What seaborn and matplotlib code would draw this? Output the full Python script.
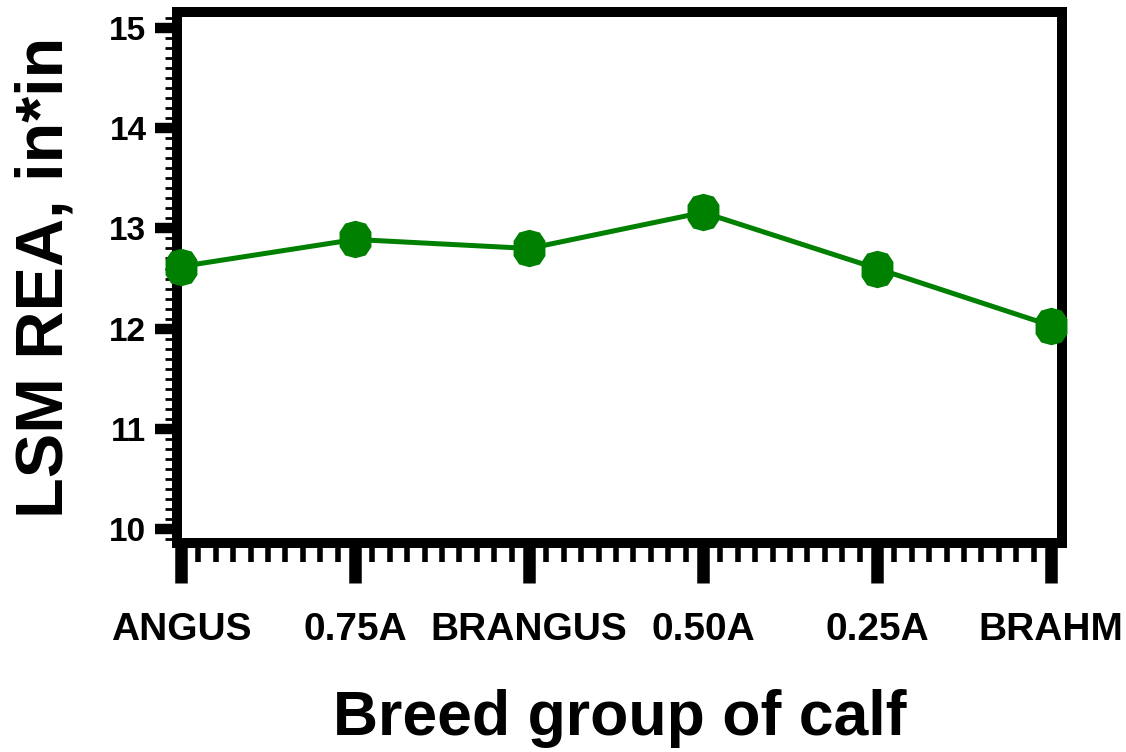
# LSM REA by breed group of calf
import numpy as np
import pandas as pd
import matplotlib
matplotlib.use("Agg")
import matplotlib.pyplot as plt
from matplotlib.ticker import MultipleLocator
import seaborn as sns

# ------------------------------------------
# Data
# ------------------------------------------
breed_groups = ["ANGUS", "0.75A", "BRANGUS", "0.50A", "0.25A", "BRAHM"]
lsm_rea = [12.62, 12.89, 12.80, 13.16, 12.60, 12.03]
y_ticks = [10, 11, 12, 13, 14, 15]

df = pd.DataFrame({"breed": breed_groups, "rea": lsm_rea})

# rounded, slightly tall dot shape like the original markers
tall_dot = [(0, 1), (0.55, 0.85), (0.85, 0.4), (0.85, -0.4), (0.55, -0.85),
            (0, -1), (-0.55, -0.85), (-0.85, -0.4), (-0.85, 0.4),
            (-0.55, 0.85), (0, 1)]

# ------------------------------------------
# Style
# ------------------------------------------
sns.set_theme(style="ticks")
plt.rcParams["font.family"] = ["Liberation Sans", "DejaVu Sans"]
plt.rcParams["font.weight"] = "bold"

fig = plt.figure(figsize=(11.26, 7.52), dpi=100)
ax = fig.add_axes([0.1572, 0.2779, 0.9432 - 0.1572, 0.984 - 0.2779])

sns.lineplot(
    data=df,
    x="breed",
    y="rea",
    sort=False,
    color="#008000",
    linewidth=3.6,
    marker=tall_dot,
    markersize=27,
    markeredgewidth=0,
    clip_on=False,
    zorder=10,
    ax=ax
)

ax.set_xlim(-0.023, 5.063)
ax.set_ylim(9.86, 15.16)

ax.set_xticks(range(len(breed_groups)))
ax.set_xticklabels(breed_groups)
ax.xaxis.set_minor_locator(MultipleLocator(0.1))
ax.set_yticks(y_ticks)
ax.set_yticklabels([str(t) for t in y_ticks])
ax.yaxis.set_minor_locator(MultipleLocator(0.1))

ax.tick_params(axis="x", which="major", length=29, width=9, pad=21,
               labelsize=28, color="black", direction="out")
ax.tick_params(axis="x", which="minor", length=14, width=4,
               color="black", direction="out")
ax.tick_params(axis="y", which="major", length=16, width=7.5, pad=6,
               labelsize=24, color="black", direction="out")
ax.tick_params(axis="y", which="minor", length=8.5, width=2,
               color="black", direction="out")

for lab in ax.get_xticklabels() + ax.get_yticklabels():
    lab.set_fontweight("bold")
    lab.set_color("black")

for side in ["left", "right", "top", "bottom"]:
    ax.spines[side].set_visible(True)
    ax.spines[side].set_linewidth(7.2)
    ax.spines[side].set_color("black")

ax.set_xlabel("Breed group of calf", fontsize=45, fontweight="bold", color="black")
ax.set_ylabel("LSM REA, in*in", fontsize=48, fontweight="bold", color="black")
ax.xaxis.set_label_coords(0.5, -0.275)
ax.yaxis.set_label_coords(-0.114, 0.5)

ax.set_facecolor("white")
fig.patch.set_facecolor("white")

plt.savefig("out.png", dpi=100)
